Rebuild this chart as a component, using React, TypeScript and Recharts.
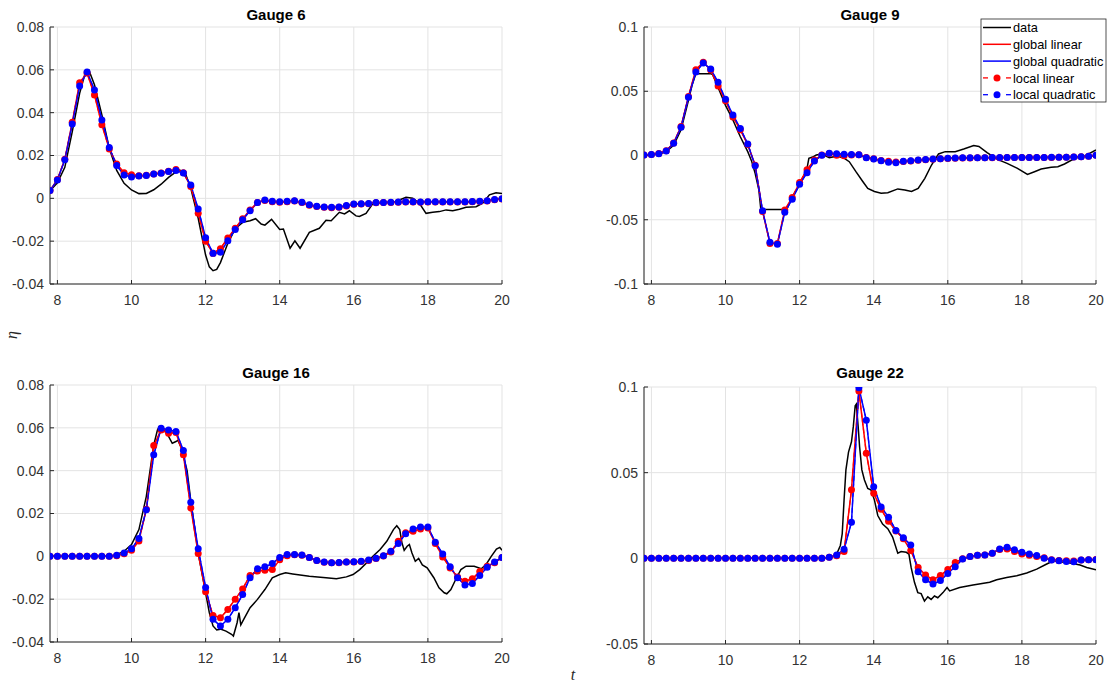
import React from 'react';
import { LineChart, Line, XAxis, YAxis, CartesianGrid } from 'recharts';

const T_MARK = [
  7.8, 8.0, 8.2, 8.4, 8.6, 8.8, 9.0, 9.2, 9.4, 9.6, 9.8, 10.0, 10.2, 10.4, 10.6, 10.8,
  11.0, 11.2, 11.4, 11.6, 11.8, 12.0, 12.2, 12.4, 12.6, 12.8, 13.0, 13.2, 13.4, 13.6, 13.8,
  14.0, 14.2, 14.4, 14.6, 14.8, 15.0, 15.2, 15.4, 15.6, 15.8, 16.0, 16.2, 16.4, 16.6, 16.8,
  17.0, 17.2, 17.4, 17.6, 17.8, 18.0, 18.2, 18.4, 18.6, 18.8, 19.0, 19.2, 19.4, 19.6, 19.8, 20.0,
];
const X_TICKS = [8, 10, 12, 14, 16, 18, 20];

// ---------- Gauge 6 ----------
const G6_Y_TICKS = [-0.04, -0.02, 0, 0.02, 0.04, 0.06, 0.08];
const G6_LINEAR = [
  0.0036, 0.0088, 0.0182, 0.0355, 0.054, 0.0585, 0.0483, 0.0343, 0.023, 0.016,
  0.012, 0.011, 0.0106, 0.0108, 0.0114, 0.0118, 0.0127, 0.0135, 0.012, 0.0055,
  -0.007, -0.02, -0.0257, -0.0235, -0.0185, -0.014, -0.0095, -0.0055, -0.002, -0.001,
  -0.0016,
  -0.0018, -0.0016, -0.0013, -0.002, -0.0032, -0.0038, -0.0042, -0.0044, -0.0042, -0.0036,
  -0.0028, -0.0026, -0.0025, -0.0021, -0.002, -0.0019, -0.0018, -0.0017, -0.0017, -0.0018,
  -0.0017, -0.0017, -0.0017, -0.0017, -0.0017, -0.0017, -0.0016, -0.0015, -0.0012, -0.0007,
  -0.0003,
];
const G6_QUAD = [
  0.0036, 0.0086, 0.018, 0.0347, 0.0525, 0.059, 0.0506, 0.0366, 0.0237, 0.0153,
  0.0109, 0.01, 0.0104, 0.0107, 0.0114, 0.0117, 0.0125, 0.013, 0.0118, 0.0062,
  -0.005, -0.0184, -0.0257, -0.0252, -0.0198, -0.0145, -0.01, -0.0058, -0.002, -0.0008,
  -0.0014,
  -0.0016, -0.0014, -0.0011, -0.0018, -0.003, -0.0037, -0.004, -0.0042, -0.004, -0.0034,
  -0.0026, -0.0025, -0.0024, -0.002, -0.0019, -0.0018, -0.0017, -0.0016, -0.0016, -0.0017,
  -0.0016, -0.0016, -0.0016, -0.0016, -0.0016, -0.0016, -0.0015, -0.0014, -0.0011, -0.0006,
  -0.0002,
];
const G6_DATA: [number, number][] = [
  [7.8, 0.0036], [8.0, 0.0072], [8.2, 0.0145], [8.4, 0.031], [8.6, 0.049], [8.75, 0.0585],
  [8.85, 0.0598], [9.0, 0.053], [9.2, 0.039], [9.4, 0.0234], [9.6, 0.013], [9.8, 0.007],
  [10.0, 0.0039], [10.2, 0.0022], [10.4, 0.0023], [10.6, 0.004], [10.8, 0.0066], [11.0, 0.0098],
  [11.2, 0.0124], [11.3, 0.0132], [11.45, 0.0118], [11.6, 0.0047], [11.8, -0.0093], [12.0, -0.0265],
  [12.1, -0.032], [12.2, -0.0338], [12.3, -0.0332], [12.4, -0.03], [12.6, -0.021], [12.8, -0.0142],
  [13.0, -0.0112], [13.2, -0.0105], [13.35, -0.0095], [13.5, -0.012], [13.6, -0.0125], [13.78, -0.0098],
  [14.0, -0.0145], [14.1, -0.0143], [14.28, -0.0233], [14.41, -0.0198], [14.55, -0.0233], [14.8, -0.0159],
  [15.07, -0.014], [15.25, -0.0102], [15.39, -0.0105], [15.61, -0.0065], [15.75, -0.0073], [15.88, -0.0058],
  [16.06, -0.0082], [16.15, -0.0085], [16.33, -0.007], [16.51, -0.0026], [16.78, -0.002], [17.05, -0.002],
  [17.23, -0.0008], [17.41, 0.0005], [17.59, 0.0], [17.77, -0.0023], [17.95, -0.007], [18.13, -0.0065],
  [18.31, -0.0062], [18.49, -0.0054], [18.67, -0.0058], [18.85, -0.0051], [19.03, -0.0042], [19.3, -0.0039],
  [19.48, -0.0023], [19.66, 0.0016], [19.84, 0.0026], [20.0, 0.0023],
];

// ---------- Gauge 9 ----------
const G9_Y_TICKS = [-0.1, -0.05, 0, 0.05, 0.1];
const G9_LINEAR = [
  0.0004, 0.0007, 0.0015, 0.0037, 0.0098, 0.0225, 0.046, 0.0668, 0.0725, 0.0665,
  0.054, 0.0427, 0.03, 0.02, 0.0085, -0.0075, -0.0435, -0.0685, -0.0685, -0.0425,
  -0.0326, -0.021, -0.011, -0.0035, 0.0003, 0.0015, 0.0002, -0.0002, 0.0004, 0.0005,
  -0.0015,
  -0.0025, -0.0038, -0.0045, -0.005, -0.0046, -0.0042, -0.0037, -0.0033, -0.0029, -0.0026,
  -0.0024, -0.0022, -0.002, -0.0019, -0.0018, -0.0018, -0.0017, -0.0017, -0.0016, -0.0016,
  -0.0016, -0.0016, -0.0015, -0.0015, -0.0015, -0.0014, -0.0013, -0.0012, -0.001, -0.0006,
  0.0001,
];
const G9_QUAD = [
  0.0004, 0.0007, 0.0014, 0.0035, 0.0095, 0.022, 0.0453, 0.065, 0.072, 0.0673,
  0.057, 0.0437, 0.0315, 0.0211, 0.009, -0.008, -0.043, -0.0676, -0.069, -0.0442,
  -0.034, -0.0224, -0.0134, -0.0043, 0.0001, 0.0017, 0.0014, 0.0009, 0.0007, 0.0006,
  -0.0017,
  -0.0027, -0.004, -0.0053, -0.0056, -0.0045, -0.004, -0.0035, -0.0032, -0.0027, -0.0025,
  -0.0022, -0.002, -0.0018, -0.0017, -0.0017, -0.0017, -0.0016, -0.0016, -0.0016, -0.0015,
  -0.0015, -0.0015, -0.0015, -0.0015, -0.0014, -0.0014, -0.0013, -0.0012, -0.001, -0.0006,
  0.0001,
];
const G9_DATA: [number, number][] = [
  [7.8, 0.0003], [8.0, 0.0005], [8.2, 0.001], [8.4, 0.003], [8.6, 0.008], [8.8, 0.02], [9.0, 0.043],
  [9.1, 0.055], [9.2, 0.0637], [9.6, 0.0637], [9.65, 0.063], [9.8, 0.053], [10.0, 0.039], [10.2, 0.0276],
  [10.4, 0.0146], [10.6, 0.003], [10.7, -0.004], [10.8, -0.0139], [10.9, -0.0268], [10.95, -0.041],
  [11.0, -0.042], [11.65, -0.042], [11.8, -0.032], [12.0, -0.023], [12.2, -0.01], [12.25, -0.0022],
  [12.35, -0.0012], [12.45, 0.0004], [12.6, 0.0012], [12.8, -0.0017], [13.0, -0.0005], [13.2, -0.002],
  [13.34, -0.0048], [13.52, -0.0126], [13.7, -0.02], [13.84, -0.0256], [14.02, -0.028], [14.2, -0.0294],
  [14.38, -0.029], [14.65, -0.026], [14.84, -0.0268], [15.02, -0.028], [15.2, -0.0256], [15.38, -0.0178],
  [15.56, -0.0074], [15.75, 0.0012], [15.93, 0.003], [16.2, 0.003], [16.43, 0.005], [16.7, 0.0077],
  [16.84, 0.007], [17.06, 0.0022], [17.34, -0.003], [17.6, -0.0061], [17.88, -0.01], [18.15, -0.0147],
  [18.34, -0.0126], [18.52, -0.0105], [18.79, -0.0092], [18.97, -0.0087], [19.15, -0.0066],
  [19.43, -0.0022], [19.7, -0.0004], [20.0, 0.0043],
];

// ---------- Gauge 16 ----------
const G16_Y_TICKS = [-0.04, -0.02, 0, 0.02, 0.04, 0.06, 0.08];
const G16_LINEAR = [
  0, 0, 0, 0, 0, 0, 0, 0, 0,
  0.0003, 0.0012, 0.0028, 0.0072, 0.022, 0.0517, 0.059, 0.0575, 0.0578, 0.0474, 0.0226,
  0.0013, -0.0165, -0.0276, -0.0287, -0.0248, -0.02, -0.0152, -0.0089, -0.0069, -0.0065,
  -0.0062,
  -0.0016, 0.0003, 0.0007, 0.0005, -0.0006, -0.002, -0.0028, -0.003, -0.003, -0.0027,
  -0.0026, -0.0024, -0.0019, -0.001, 0.0001, 0.002, 0.007, 0.011, 0.0117, 0.0128,
  0.0132, 0.006, -0.0003, -0.0054, -0.0096, -0.0116, -0.0105, -0.0071, -0.0046, -0.003,
  -0.0006,
];
const G16_QUAD = [
  0, 0, 0, 0, 0, 0, 0, 0, 0,
  0.0005, 0.0016, 0.0035, 0.0083, 0.0218, 0.0474, 0.0598, 0.059, 0.0583, 0.0494, 0.0252,
  0.0035, -0.0145, -0.0294, -0.0325, -0.0294, -0.024, -0.0178, -0.01, -0.0058, -0.0049,
  -0.0034,
  -0.0005, 0.0008, 0.0008, 0.0006, -0.0005, -0.002, -0.0027, -0.003, -0.0029, -0.0026,
  -0.0025, -0.0023, -0.0017, -0.0009, 0.0003, 0.0024, 0.006, 0.0105, 0.0128, 0.0137,
  0.0137, 0.0066, 0.0011, -0.0049, -0.01, -0.0134, -0.0127, -0.0089, -0.0051, -0.0026,
  -0.0005,
];
const G16_DATA: [number, number][] = [
  [7.8, 0], [9.4, 0], [9.6, 0.0008], [9.8, 0.0024], [10.0, 0.0055], [10.2, 0.0125], [10.4, 0.028],
  [10.5, 0.04], [10.6, 0.052], [10.7, 0.059], [10.75, 0.0606], [10.85, 0.0598], [11.0, 0.056],
  [11.1, 0.0528], [11.2, 0.0536], [11.25, 0.0542], [11.35, 0.0505], [11.5, 0.04], [11.6, 0.026],
  [11.8, 0.0016], [12.0, -0.017], [12.1, -0.0263], [12.2, -0.0325], [12.3, -0.0344], [12.4, -0.034],
  [12.55, -0.0349], [12.7, -0.0364], [12.75, -0.0372], [12.85, -0.031], [12.9, -0.0263], [12.95, -0.032],
  [13.05, -0.0287], [13.2, -0.024], [13.4, -0.0201], [13.6, -0.0155], [13.8, -0.01], [14.0, -0.0085],
  [14.16, -0.0077], [14.35, -0.0082], [14.8, -0.0093], [15.25, -0.01], [15.53, -0.0105], [15.8, -0.0096],
  [15.98, -0.0085], [16.16, -0.0062], [16.35, -0.003], [16.53, 0.0003], [16.71, 0.0032], [16.89, 0.007],
  [17.07, 0.0125], [17.16, 0.0143], [17.24, 0.0125], [17.3, 0.0063], [17.36, 0.0028], [17.44, 0.0047],
  [17.5, 0.0055], [17.57, 0.0016], [17.66, -0.0023], [17.75, -0.001], [17.85, -0.004], [17.98, -0.0054],
  [18.16, -0.01], [18.3, -0.0147], [18.44, -0.017], [18.51, -0.0175], [18.62, -0.0155], [18.75, -0.0108],
  [18.89, -0.0062], [19.03, -0.0046], [19.25, -0.0046], [19.44, -0.0058], [19.57, -0.0038], [19.71, 0],
  [19.85, 0.0034], [19.94, 0.0042], [20.0, 0.0028],
];

// ---------- Gauge 22 ----------
const G22_Y_TICKS = [-0.05, 0, 0.05, 0.1];
const G22_LINEAR = [
  0, 0, 0, 0, 0, 0, 0, 0, 0, 0, 0, 0, 0, 0, 0, 0, 0, 0, 0, 0, 0, 0, 0, 0, 0,
  0.0006, 0.0015, 0.004, 0.04, 0.0976, 0.0614, 0.038, 0.0286, 0.0216, 0.016,
  0.0114, 0.0045, -0.0053, -0.0098, -0.0125, -0.01, -0.0065, -0.0024, -0.0002, 0.001,
  0.0018, 0.002, 0.003, 0.0052, 0.0055, 0.004, 0.0025, 0.0018, 0.001, 0.0003,
  -0.0008, -0.0012, -0.0014, -0.0015, -0.001, -0.0008, -0.0007,
];
const G22_QUAD = [
  0, 0, 0, 0, 0, 0, 0, 0, 0, 0, 0, 0, 0, 0, 0, 0, 0, 0, 0, 0, 0, 0, 0, 0, 0,
  0.0006, 0.002, 0.0053, 0.021, 0.0996, 0.0806, 0.0418, 0.03, 0.024, 0.0163,
  0.012, 0.0078, -0.0078, -0.0125, -0.015, -0.013, -0.0088, -0.0049, -0.0004, 0.001,
  0.0018, 0.002, 0.003, 0.0055, 0.0065, 0.005, 0.0035, 0.0025, 0.0016, 0,
  -0.001, -0.0014, -0.0018, -0.002, -0.001, -0.0008, -0.0008,
];
const G22_DATA: [number, number][] = [
  [7.8, 0], [12.6, 0], [12.8, 0.0006], [12.9, 0.001], [13.0, 0.0025], [13.1, 0.0075], [13.15, 0.0143],
  [13.2, 0.034], [13.25, 0.0516], [13.32, 0.062], [13.4, 0.068], [13.45, 0.077], [13.5, 0.089],
  [13.53, 0.09], [13.58, 0.077], [13.62, 0.065], [13.68, 0.0516], [13.75, 0.0457], [13.84, 0.0408],
  [13.93, 0.0398], [14.02, 0.034], [14.11, 0.025], [14.24, 0.02], [14.38, 0.0173], [14.51, 0.0124],
  [14.65, 0.003], [14.74, 0.004], [14.88, 0.0035], [14.95, 0.0025], [15.01, -0.0053], [15.1, -0.014],
  [15.19, -0.02], [15.28, -0.0206], [15.37, -0.025], [15.46, -0.0225], [15.55, -0.024], [15.64, -0.022],
  [15.73, -0.023], [15.87, -0.02], [15.98, -0.017], [16.05, -0.019], [16.32, -0.017], [16.68, -0.0155],
  [17.13, -0.014], [17.32, -0.0125], [17.59, -0.0112], [17.86, -0.0102], [18.13, -0.0086], [18.4, -0.0063],
  [18.67, -0.0033], [18.85, -0.0014], [19.03, -0.002], [19.3, -0.0027], [19.57, -0.0039], [19.75, -0.0053],
  [20.0, -0.0067],
];

const LEGEND_LABELS = ['data', 'global linear', 'global quadratic', 'local linear', 'local quadratic'];

const FONT = '"Liberation Sans", Arial, Helvetica, sans-serif';
const AXIS = '#262626';
const GRID = '#e3e3e3';
const RED = '#ff0000';
const BLUE = '#0000ff';

type PanelProps = {
  left: number;
  top: number;
  lin: number[];
  quad: number[];
  data: [number, number][];
  yDomain: [number, number];
  yTicks: number[];
};

function Panel({ left, top, lin, quad, data, yDomain, yTicks }: PanelProps) {
  const marks = T_MARK.map((t, i) => ({ t, lin: lin[i], quad: quad[i] }));
  const black = data.map(([t, v]) => ({ t, v }));
  const tickStyle = { fill: '#333333', fontSize: 14, fontFamily: FONT };
  return (
    <div style={{ position: 'absolute', left, top, width: 520, height: 310 }}>
      <LineChart width={520} height={310} margin={{ top: 27, right: 18, left: 0, bottom: 0 }}>
        <CartesianGrid stroke={GRID} strokeWidth={1} />
        <XAxis
          dataKey="t"
          type="number"
          domain={[7.8, 20]}
          ticks={X_TICKS}
          interval={0}
          allowDataOverflow
          height={26}
          tick={tickStyle}
          tickSize={-4}
          tickMargin={15}
          axisLine={{ stroke: AXIS, strokeWidth: 1 }}
          tickLine={{ stroke: AXIS }}
        />
        <YAxis
          type="number"
          domain={yDomain}
          ticks={yTicks}
          interval={0}
          allowDataOverflow
          width={50}
          tick={tickStyle}
          tickSize={-4}
          tickMargin={10}
          tickFormatter={(v: number) => String(v)}
          axisLine={{ stroke: AXIS, strokeWidth: 1 }}
          tickLine={{ stroke: AXIS }}
        />
        <Line data={black} dataKey="v" stroke="#000000" strokeWidth={1.5} dot={false} isAnimationActive={false} />
        <Line data={marks} dataKey="lin" stroke={RED} strokeWidth={1.5} dot={false} isAnimationActive={false} />
        <Line data={marks} dataKey="quad" stroke={BLUE} strokeWidth={1.5} dot={false} isAnimationActive={false} />
        <Line
          data={marks}
          dataKey="lin"
          stroke={RED}
          strokeWidth={1.2}
          strokeDasharray="5 3"
          dot={{ r: 3.5, fill: RED, stroke: 'none' }}
          isAnimationActive={false}
        />
        <Line
          data={marks}
          dataKey="quad"
          stroke={BLUE}
          strokeWidth={1.2}
          strokeDasharray="5 3"
          dot={{ r: 3.5, fill: BLUE, stroke: 'none' }}
          isAnimationActive={false}
        />
      </LineChart>
    </div>
  );
}

function Overlay() {
  const lx = 981;
  const ly = 19;
  const rows = [27.5, 44.3, 61.1, 77.9, 94.7];
  const colors = ['#000000', RED, BLUE, RED, BLUE];
  return (
    <svg
      width={1110}
      height={682}
      style={{ position: 'absolute', left: 0, top: 0, pointerEvents: 'none' }}
    >
      <g fontFamily={FONT} fontWeight="bold" fontSize={15} fill="#000" textAnchor="middle">
        <text x={276} y={20}>Gauge 6</text>
        <text x={870} y={20}>Gauge 9</text>
        <text x={276} y={378}>Gauge 16</text>
        <text x={870} y={378}>Gauge 22</text>
      </g>
      <text
        x={17}
        y={335}
        fontFamily='"Liberation Serif", "Times New Roman", serif'
        fontStyle="italic"
        fontSize={16}
        fill={AXIS}
        textAnchor="middle"
        transform="rotate(-90 17 335)"
      >
        η
      </text>
      <text
        x={573}
        y={680}
        fontFamily='"Liberation Serif", "Times New Roman", serif'
        fontStyle="italic"
        fontSize={16}
        fill={AXIS}
        textAnchor="middle"
      >
        t
      </text>
      <rect x={lx} y={ly} width={125} height={83} fill="#ffffff" stroke={AXIS} strokeWidth={0.8} />
      {LEGEND_LABELS.map((label, i) => {
        const y = rows[i];
        const local = i >= 3;
        return (
          <g key={label}>
            {local ? (
              <>
                <line x1={983} x2={988} y1={y} y2={y} stroke={colors[i]} strokeWidth={1.3} />
                <circle cx={997} cy={y} r={3.5} fill={colors[i]} />
                <line x1={1006} x2={1011} y1={y} y2={y} stroke={colors[i]} strokeWidth={1.3} />
              </>
            ) : (
              <line x1={983} x2={1011} y1={y} y2={y} stroke={colors[i]} strokeWidth={1.5} />
            )}
            <text x={1013} y={y + 4.6} fontFamily={FONT} fontSize={12.8} fill="#000">
              {label}
            </text>
          </g>
        );
      })}
    </svg>
  );
}

export default function App() {
  return (
    <div style={{ position: 'absolute', left: 0, top: 0, width: 1110, height: 682, background: '#ffffff' }}>
      <Panel left={0} top={0} lin={G6_LINEAR} quad={G6_QUAD} data={G6_DATA} yDomain={[-0.04, 0.08]} yTicks={G6_Y_TICKS} />
      <Panel left={594} top={0} lin={G9_LINEAR} quad={G9_QUAD} data={G9_DATA} yDomain={[-0.1, 0.1]} yTicks={G9_Y_TICKS} />
      <Panel left={0} top={358} lin={G16_LINEAR} quad={G16_QUAD} data={G16_DATA} yDomain={[-0.04, 0.08]} yTicks={G16_Y_TICKS} />
      <Panel left={594} top={360} lin={G22_LINEAR} quad={G22_QUAD} data={G22_DATA} yDomain={[-0.05, 0.1]} yTicks={G22_Y_TICKS} />
      <Overlay />
    </div>
  );
}
